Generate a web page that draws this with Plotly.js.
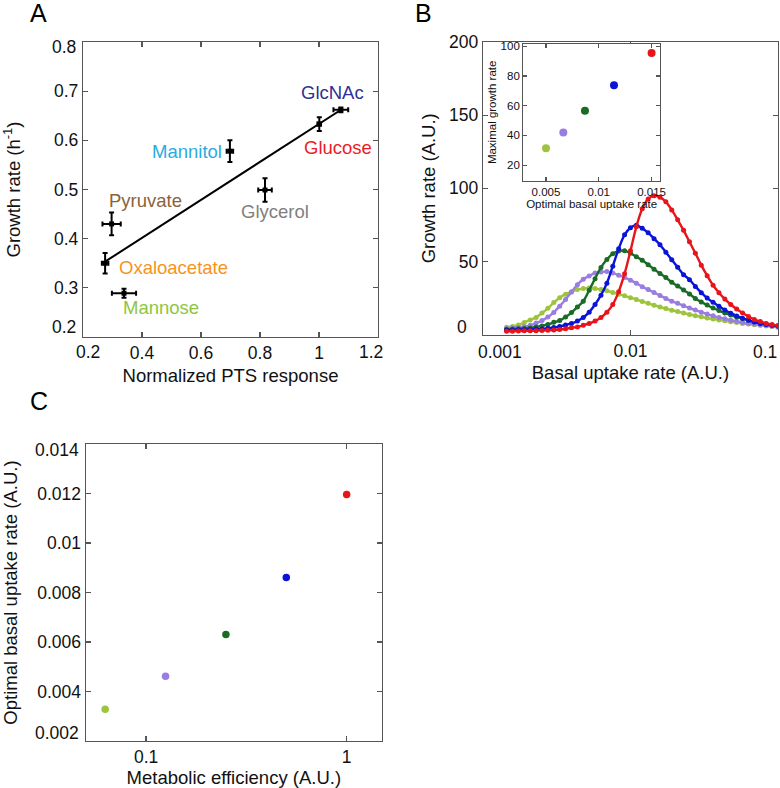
<!DOCTYPE html>
<html>
<head>
<meta charset="utf-8">
<script src="https://cdn.plot.ly/plotly-3.0.1.min.js"></script>
<style>html,body{margin:0;padding:0;background:#fff;}#chart{width:780px;height:788px;}</style>
</head>
<body>
<div id="chart"></div>
<script>
// ---------- Panel A data ----------
const carbonSources = ["GlcNAc", "Glucose", "Mannitol", "Glycerol", "Pyruvate", "Oxaloacetate", "Mannose"];
const ptsResponse   = [1.074, 1.001, 0.698, 0.817, 0.297, 0.275, 0.339];
const ptsErr        = [0.025, 0.006, 0.011, 0.023, 0.031, 0.011, 0.041];
const growthRateA   = [0.662, 0.633, 0.578, 0.499, 0.430, 0.350, 0.289];
const growthErr     = [0.005, 0.014, 0.022, 0.024, 0.023, 0.021, 0.009];
const labelColors   = ["#2e3192", "#ed1c24", "#29abe2", "#808080", "#8c6239", "#f7931e", "#8dc63f"];
const labelX        = [1.047, 1.063, 0.554, 0.851, 0.412, 0.508, 0.465];
const labelY        = [0.697, 0.585, 0.578, 0.455, 0.477, 0.341, 0.261];
const fitX = [0.2746, 1.0735];
const fitY = [0.3532, 0.6617];
const ticksAx = ["0.2", "0.4", "0.6", "0.8", "1", "1.2"];
const ticksAy = ["0.2", "0.3", "0.4", "0.5", "0.6", "0.7", "0.8"];

// ---------- Panel B data ----------
const basalUptake = [0.001445, 0.001585, 0.001738, 0.001905, 0.002089, 0.002291, 0.002512, 0.002754, 0.003020, 0.003311,
  0.003631, 0.003981, 0.004365, 0.004786, 0.005248, 0.005754, 0.006310, 0.006918, 0.007586, 0.008318,
  0.009120, 0.01, 0.01096, 0.01202, 0.01318, 0.01445, 0.01585, 0.01738, 0.01905, 0.02089,
  0.02291, 0.02512, 0.02754, 0.03020, 0.03311, 0.03631, 0.03981, 0.04365, 0.04786, 0.05248,
  0.05754, 0.06310, 0.06918, 0.07586, 0.08318, 0.09120, 0.1];
const growthYellowGreen = [5.0, 5.5, 6.5, 8.2, 10.0, 11.7, 14.7, 17.9, 21.8, 25.2,
  27.6, 29.3, 30.7, 31.4, 31.8, 31.4, 30.8, 29.9, 28.8, 27.6,
  26.5, 25.2, 24.0, 22.6, 21.3, 20.0, 18.8, 17.7, 16.6, 15.7,
  14.7, 13.7, 12.9, 12.1, 11.3, 10.6, 10.0, 9.4, 8.8, 8.2,
  7.6, 7.2, 6.7, 6.3, 5.9, 5.5, 5.0];
const growthLavender = [4.1, 4.4, 4.8, 5.3, 6.3, 7.8, 9.5, 11.9, 15.1, 19.4,
  24.0, 29.0, 34.1, 37.8, 40.0, 42.1, 42.8, 43.0, 42.1, 40.6,
  39.0, 37.1, 35.1, 32.7, 30.7, 28.7, 26.7, 24.7, 22.8, 21.3,
  19.7, 18.1, 16.7, 15.3, 14.0, 12.8, 11.7, 10.8, 9.8, 9.0,
  8.2, 7.6, 7.1, 6.5, 6.1, 5.6, 5.1];
const growthDarkGreen = [3.5, 3.7, 3.9, 4.1, 4.5, 5.2, 5.9, 6.9, 8.3, 9.5,
  11.9, 15.0, 18.8, 22.8, 30.3, 38.2, 45.9, 51.3, 55.2, 57.1,
  57.3, 55.6, 53.2, 50.8, 47.7, 44.7, 41.7, 38.9, 35.7, 33.1,
  30.4, 27.7, 24.6, 22.2, 20.1, 18.1, 16.4, 14.7, 13.3, 11.9,
  10.8, 9.7, 8.8, 7.9, 7.1, 6.4, 5.8];
const growthBlue = [3.0, 3.1, 3.2, 3.3, 3.5, 3.7, 3.8, 4.2, 4.8, 5.5,
  6.5, 7.6, 9.2, 11.6, 15.3, 20.5, 26.9, 35.1, 46.7, 58.6,
  68.2, 73.0, 74.7, 72.6, 69.5, 65.5, 61.4, 56.2, 51.1, 46.0,
  40.9, 37.5, 32.9, 28.6, 24.9, 22.0, 19.3, 16.8, 14.6, 12.7,
  11.2, 9.7, 8.5, 7.6, 6.8, 6.3, 5.8];
const growthRed = [2.25, 2.3, 2.4, 2.5, 2.5, 2.6, 2.7, 2.9, 3.1, 3.4,
  3.9, 4.6, 5.2, 6.3, 7.6, 9.2, 11.6, 15.3, 20.5, 29.3,
  41.6, 57.3, 73.6, 85.9, 92.7, 94.8, 93.9, 90.7, 85.2, 78.4,
  71.2, 63.4, 55.6, 47.4, 40.2, 33.7, 28.6, 24.2, 20.5, 17.4,
  14.7, 12.3, 10.2, 8.9, 7.6, 6.8, 6.1];
const ticksBx = ["0.001", "0.01", "0.1"];
const ticksBy = ["0", "50", "100", "150", "200"];

// inset
const insetOptimalUptake = [0.005, 0.00664, 0.00869, 0.01144, 0.015];
const insetMaxGrowth     = [31.4, 42.0, 56.6, 73.7, 95.5];

// ---------- Panel C data ----------
const metabolicEfficiency = [0.0625, 0.125, 0.25, 0.5, 1];
const optimalUptakeC      = [0.00328, 0.00462, 0.0063, 0.00861, 0.01196];
const ticksCy = ["0.002", "0.004", "0.006", "0.008", "0.01", "0.012", "0.014"];

const seriesColors = ["#9dc43d", "#9a7de0", "#1a6b26", "#0a14d8", "#e8141a"];
const curveSeries = [growthYellowGreen, growthLavender, growthDarkGreen, growthBlue, growthRed];

const FONT = "Liberation Sans, Arial, Helvetica, sans-serif";
const TXT = "#111";
const AX = "#555";
const TICK_SIZE = 17.5;

const traces = [];
// Panel A
traces.push({x: fitX, y: fitY, xaxis: "x", yaxis: "y", mode: "lines", type: "scatter",
  line: {color: "#000", width: 2}, hoverinfo: "skip"});
traces.push({x: ptsResponse, y: growthRateA, text: carbonSources, xaxis: "x", yaxis: "y",
  mode: "markers", type: "scatter",
  marker: {color: "#000", size: 5, symbol: "square"},
  error_x: {type: "data", array: ptsErr, visible: true, color: "#000", thickness: 2, width: 2.5},
  error_y: {type: "data", array: growthErr, visible: true, color: "#000", thickness: 2, width: 2.5}});
// Panel B curves
curveSeries.forEach((s, i) => {
  traces.push({x: basalUptake, y: s, xaxis: "x2", yaxis: "y2", mode: "lines+markers", type: "scatter",
    line: {color: seriesColors[i], width: 2.4, shape: "spline"},
    marker: {color: seriesColors[i], size: 5}});
});
// Inset
traces.push({x: insetOptimalUptake, y: insetMaxGrowth, xaxis: "x4", yaxis: "y4", mode: "markers", type: "scatter",
  marker: {color: seriesColors, size: 8}});
// Panel C
traces.push({x: metabolicEfficiency, y: optimalUptakeC, xaxis: "x3", yaxis: "y3", mode: "markers", type: "scatter",
  marker: {color: seriesColors, size: 7.5}});

function ax(extra) {
  return Object.assign({
    showline: true, linecolor: AX, linewidth: 1.2, mirror: "ticks",
    ticks: "inside", ticklen: 5, tickwidth: 1.2, tickcolor: AX,
    showgrid: false, zeroline: false, automargin: false,
    tickfont: {family: FONT, size: TICK_SIZE, color: TXT}
  }, extra);
}
const titleFont = {family: FONT, size: 18.5, color: TXT};
const insetFont = {family: FONT, size: 11.5, color: TXT};

const annotations = carbonSources.map((name, i) => ({
  x: labelX[i], y: labelY[i], xref: "x", yref: "y", text: name, showarrow: false,
  font: {family: FONT, size: 18.5, color: labelColors[i]}, xanchor: "center", yanchor: "middle"
}));
[["A", 28, 13.5], ["B", 413, 13.5], ["C", 28, 401]].forEach(p => {
  annotations.push({text: p[0], x: p[1] / 780, y: 1 - p[2] / 788, xref: "paper", yref: "paper",
    xanchor: "left", yanchor: "middle", showarrow: false, font: {family: FONT, size: 25, color: "#000"}});
});
// end-of-axis tick labels, pulled inward as in the original figure
function endLabel(text, px, py, xanchor) {
  annotations.push({text: text, x: px / 780, y: 1 - py / 788, xref: "paper", yref: "paper",
    xanchor: xanchor, yanchor: "middle", showarrow: false,
    font: {family: FONT, size: TICK_SIZE, color: TXT}});
}
endLabel(ticksAy[0], 78, 327, "right");
endLabel(ticksAy[6], 78, 47, "right");
endLabel(ticksAx[0], 88, 352, "center");
endLabel(ticksAx[5], 371, 352, "center");
endLabel(ticksBy[0], 469, 327, "right");
endLabel(ticksBx[0], 500, 352, "center");
endLabel(ticksBx[2], 779, 352, "right");
endLabel(ticksCy[0], 81, 733, "right");
endLabel(ticksCy[6], 81, 450, "right");

const layout = {
  width: 780, height: 788,
  margin: {l: 0, r: 0, t: 0, b: 0},
  paper_bgcolor: "#fff", plot_bgcolor: "#fff",
  showlegend: false,
  font: {family: FONT, color: TXT},
  xaxis: ax({domain: [0.1064, 0.4846], anchor: "y", range: [0.2, 1.2],
    tickvals: [0.4, 0.6, 0.8, 1], ticktext: ticksAx.slice(1, 5),
    title: {text: "Normalized PTS response", font: titleFont, standoff: 6}}),
  yaxis: ax({domain: [0.5723, 0.9467], anchor: "x", range: [0.2, 0.8],
    tickvals: [0.3, 0.4, 0.5, 0.6, 0.7], ticktext: ticksAy.slice(1, 6),
    title: {text: "Growth rate (h<sup>-1</sup>)", font: titleFont, standoff: 31}}),
  xaxis2: ax({domain: [0.6192, 0.9974], anchor: "y2", type: "log", range: [-3, -1],
    tickvals: [0.01], ticktext: [ticksBx[1]],
    title: {text: "Basal uptake rate (A.U.)", font: titleFont, standoff: 6}}),
  yaxis2: ax({domain: [0.5755, 0.9467], anchor: "x2", range: [0, 200],
    tickvals: [50, 100, 150, 200], ticktext: ticksBy.slice(1),
    title: {text: "Growth rate (A.U.)", font: titleFont, standoff: 8}}),
  xaxis3: ax({domain: [0.1099, 0.4897], anchor: "y3", type: "log", range: [-1.301, 0.176],
    tickvals: [0.1, 1], ticktext: ["0.1", "1"],
    title: {text: "Metabolic efficiency (A.U.)", font: titleFont, standoff: 6}}),
  yaxis3: ax({domain: [0.0596, 0.4365], anchor: "x3", range: [0.002, 0.014],
    tickvals: [0.004, 0.006, 0.008, 0.01, 0.012], ticktext: ticksCy.slice(1, 6),
    title: {text: "Optimal basal uptake rate (A.U.)", font: titleFont, standoff: 25}}),
  xaxis4: ax({domain: [0.6709, 0.8462], anchor: "y4", range: [0.00285, 0.0158],
    tickvals: [0.005, 0.01, 0.015], ticktext: ["0.005", "0.01", "0.015"],
    ticklen: 4, tickfont: insetFont,
    title: {text: "Optimal basal uptake rate", font: insetFont, standoff: 0}}),
  yaxis4: ax({domain: [0.7707, 0.9442], anchor: "x4", range: [9.6, 101.5],
    tickvals: [20, 40, 60, 80, 100],
    ticklen: 4, tickfont: insetFont,
    title: {text: "Maximal growth rate", font: insetFont, standoff: 1}}),
  annotations: annotations
};

Plotly.newPlot("chart", traces, layout, {staticPlot: true, displayModeBar: false});
</script>
</body>
</html>
